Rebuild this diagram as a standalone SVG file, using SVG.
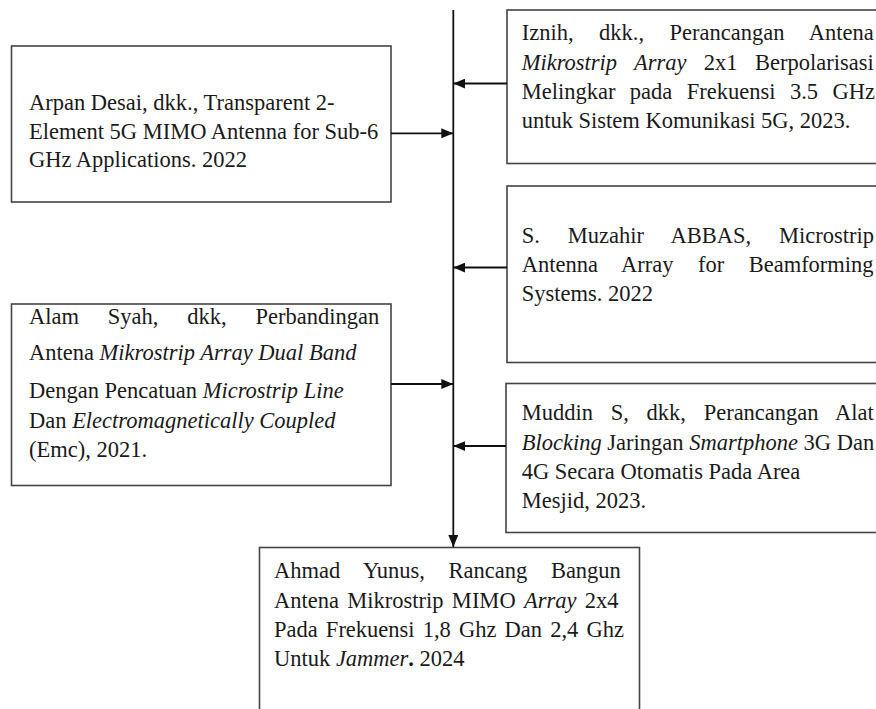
<svg xmlns="http://www.w3.org/2000/svg" width="876" height="709" viewBox="0 0 876 709">
<defs>
<marker id="ah" markerUnits="userSpaceOnUse" markerWidth="12" markerHeight="10" refX="12" refY="5" orient="auto">
<path d="M0,0 L12,5 L0,10 z" fill="#111"/>
</marker>
<style>
.box{fill:#fff;stroke:#444;stroke-width:1.6}
.t{font-family:"Liberation Serif","Times New Roman",serif;font-size:22.5px;fill:#1a1a1a}
.i{font-style:italic}
.b{font-weight:bold}
.c{stroke:#111;stroke-width:1.8;fill:none}
</style>
</defs>
<rect width="876" height="709" fill="#fff"/>

<g id="arpan">
<rect class="box" x="11.5" y="46" width="379.5" height="156"/>
<text class="t" x="29" y="110">Arpan Desai, dkk., Transparent 2-</text>
<text class="t" x="29" y="138.5">Element 5G MIMO Antenna for Sub-6</text>
<text class="t" x="29" y="167">GHz Applications. 2022</text>
</g>

<g id="iznih">
<rect class="box" x="507" y="10" width="380" height="153.5"/>
<text class="t" x="521.7" y="40" word-spacing="19.9">Iznih, dkk., Perancangan Antena</text>
<text class="t" x="521.7" y="69.5" word-spacing="11.7"><tspan class="i">Mikrostrip Array</tspan> 2x1 Berpolarisasi</text>
<text class="t" x="521.7" y="99" word-spacing="8.8">Melingkar pada Frekuensi 3.5 GHz</text>
<text class="t" x="521.7" y="128">untuk Sistem Komunikasi 5G, 2023.</text>
</g>

<g id="muzahir">
<rect class="box" x="507" y="186" width="380" height="176.5"/>
<text class="t" x="521.7" y="243" word-spacing="22.2">S. Muzahir ABBAS, Microstrip</text>
<text class="t" x="521.7" y="271.7" word-spacing="18.8">Antenna Array for Beamforming</text>
<text class="t" x="521.7" y="300.5">Systems. 2022</text>
</g>

<g id="alam">
<rect class="box" x="11.5" y="304" width="379.5" height="181.5"/>
<text class="t" x="29" y="324" word-spacing="23.2">Alam Syah, dkk, Perbandingan</text>
<text class="t" x="29" y="360">Antena <tspan class="i">Mikrostrip Array Dual Band</tspan></text>
<text class="t" x="29" y="398">Dengan Pencatuan <tspan class="i">Microstrip Line</tspan></text>
<text class="t" x="29" y="427.5">Dan <tspan class="i">Electromagnetically Coupled</tspan></text>
<text class="t" x="29" y="457">(Emc), 2021.</text>
</g>

<g id="muddin">
<rect class="box" x="506" y="383.5" width="380" height="149"/>
<text class="t" x="521.7" y="420" word-spacing="12.1">Muddin S, dkk, Perancangan Alat</text>
<text class="t" x="521.7" y="449.5"><tspan class="i">Blocking</tspan> Jaringan <tspan class="i">Smartphone</tspan> 3G Dan</text>
<text class="t" x="521.7" y="479">4G Secara Otomatis Pada Area</text>
<text class="t" x="521.7" y="508">Mesjid, 2023.</text>
</g>

<g id="ahmad">
<rect class="box" x="259.5" y="547.5" width="380" height="170"/>
<text class="t" x="274" y="578" word-spacing="18">Ahmad Yunus, Rancang Bangun</text>
<text class="t" x="274" y="607.5" word-spacing="2.7">Antena Mikrostrip MIMO <tspan class="i">Array</tspan> 2x4</text>
<text class="t" x="274" y="637" word-spacing="2.5">Pada Frekuensi 1,8 Ghz Dan 2,4 Ghz</text>
<text class="t" x="274" y="666">Untuk <tspan class="i">Jammer</tspan><tspan class="b">.</tspan> 2024</text>
</g>

<g id="connectors">
<line class="c" x1="453.3" y1="10" x2="453.3" y2="547" marker-end="url(#ah)"/>
<line class="c" x1="391" y1="133.3" x2="453.3" y2="133.3" marker-end="url(#ah)"/>
<line class="c" x1="507" y1="83.5" x2="453.3" y2="83.5" marker-end="url(#ah)"/>
<line class="c" x1="391" y1="384" x2="453.3" y2="384" marker-end="url(#ah)"/>
<line class="c" x1="507" y1="267.5" x2="453.3" y2="267.5" marker-end="url(#ah)"/>
<line class="c" x1="506" y1="446" x2="453.3" y2="446" marker-end="url(#ah)"/>
</g>
</svg>
